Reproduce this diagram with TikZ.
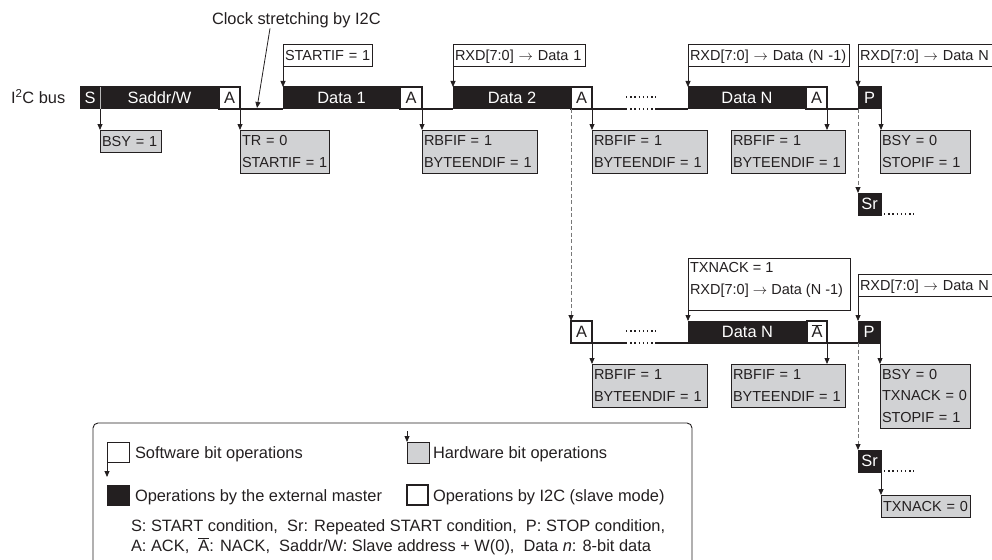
\documentclass[tikz,border=0pt]{standalone}
\usepackage{fontspec}
\setmainfont{Liberation Sans}
\usetikzlibrary{arrows.meta}
\definecolor{ink}{RGB}{35,31,32}
\definecolor{hwgray}{RGB}{209,210,212}
\definecolor{dashgray}{RGB}{120,120,120}
\newcommand{\mybigfont}{\fontsize{16.4}{19.5}\selectfont}
\newcommand{\mysmallfont}{\fontsize{14.5}{21.5}\selectfont}
\newcommand{\nack}{\ensuremath{\overline{\hbox{A}}}}
\newcommand{\nb}[1]{\mbox{#1}}
\begin{document}
\begin{tikzpicture}[x=1pt,y=-1pt,
  every node/.style={inner sep=0pt, outer sep=0pt, text=ink},
  nwpos/.style={anchor=north west},
  barbox/.style={nwpos, minimum height=22pt, font=\mybigfont, text height=11.7pt, text depth=0pt},
  blk/.style={barbox, draw=ink, fill=ink, line width=1pt, text=white},
  ack/.style={barbox, draw=ink, fill=white, line width=1.8pt},
  swlbl/.style={nwpos, draw=ink, fill=white, line width=0.9pt, font=\mysmallfont, inner xsep=2pt, align=left},
  hwlbl/.style={swlbl, fill=hwgray},
  one/.style={minimum height=22pt, text height=10.5pt, text depth=0pt},
  arr/.style={draw=ink, line width=0.8pt, -{Triangle[length=6pt,width=5pt]}},
  dasharr/.style={draw=dashgray, line width=1pt, dash pattern=on 4pt off 2.5pt, -{Triangle[length=6pt,width=5pt,color=ink]}},
  bus/.style={draw=ink, line width=1.5pt},
  dots/.style={draw=ink, line width=1.4pt, dash pattern=on 1.4pt off 2.8pt},
]
\useasboundingbox (0,0) rectangle (992,559);

% ---------- texts on the left / top
\node[anchor=base west, font=\mybigfont] (I2C) at (11,104) {I\textsuperscript{2}C bus};
\node[anchor=base west, font=\mybigfont] (CS) at (212,25) {Clock stretching by I2C};

% ---------- upper bus
\coordinate (g1a) at (626,109);
\coordinate (g1b) at (656,109);
\coordinate (u1a) at (626,97);
\coordinate (u1b) at (656,97);
\node[blk, minimum width=20pt] (S) at (80,87) {S};
\node[blk, minimum width=119pt] (SA) at (100,87) {Saddr/W};
\draw[gray!55, line width=0.6pt] (S.north east) -- (S.south east);
\node[ack, minimum width=21pt] (A1) at (219,87) {A};
\node[blk, minimum width=117pt] (D1) at (283,87) {Data 1};
\node[ack, minimum width=22pt] (A2) at (400,87) {A};
\node[blk, minimum width=118pt] (D2) at (453,87) {Data 2};
\node[ack, minimum width=21pt] (A3) at (571,87) {A};
\node[blk, minimum width=118pt] (DN) at (688,87) {Data N};
\node[ack, minimum width=21pt] (A4) at (806,87) {A};
\node[blk, minimum width=23pt] (P1) at (858,87) {P};
\node[blk, minimum width=23pt] (Sr1) at (858,193) {Sr};

\draw[bus] (A1.south east) -- (D1.south west);
\draw[bus] (A2.south east) -- (D2.south west);
\draw[bus] (A3.south east) -- (g1a);
\draw[dots] (g1a) -- (g1b);
\draw[bus] (g1b) -- (DN.south west);
\draw[bus] (A4.south east) -- (P1.south west);
\draw[dots] (u1a) -- (u1b);
\coordinate (s1a) at (884,214);
\coordinate (s1b) at (914,214);
\draw[dots] (s1a) -- (s1b);

% top labels
\node[swlbl, one, text width=85pt] (L1) at (283,44) {\nb{STARTIF = 1}};
\node[swlbl, one, text width=128pt] (L2) at (453,44) {\nb{RXD[7:0] $\rightarrow$ Data 1}};
\node[swlbl, one, text width=157pt] (L3) at (688,44) {\nb{RXD[7:0] $\rightarrow$ Data (N -1)}};
\node[swlbl, one, text width=136pt] (L4) at (858,44) {\nb{RXD[7:0] $\rightarrow$ Data N}};

% bottom labels (hardware)
\node[hwlbl, one, text width=57pt] (G1) at (100,130) {\nb{BSY = 1}};
\node[hwlbl, minimum height=43pt, text width=85pt] (G2) at (240,130) {\nb{TR = 0}\\\nb{STARTIF = 1}};
\node[hwlbl, minimum height=43pt, text width=111pt] (G3) at (422,130) {\nb{RBFIF = 1}\\\nb{BYTEENDIF = 1}};
\node[hwlbl, minimum height=43pt, text width=111pt] (G4) at (592,130) {\nb{RBFIF = 1}\\\nb{BYTEENDIF = 1}};
\node[hwlbl, minimum height=43pt, text width=110pt] (G5) at (731,130) {\nb{RBFIF = 1}\\\nb{BYTEENDIF = 1}};
\node[hwlbl, minimum height=43pt, text width=86pt] (G6) at (880,130) {\nb{BSY = 0}\\\nb{STOPIF = 1}};

% arrows upper
\coordinate (csEnd) at (257,108);
\draw[arr] ([xshift=58pt]CS.south west) -- (csEnd);
\draw[arr] (L1.south west) -- (D1.north west);
\draw[arr] (L2.south west) -- (D2.north west);
\draw[arr] (L3.south west) -- (DN.north west);
\draw[arr] (L4.south west) -- (P1.north west);
\draw[arr] (S.south east) -- (G1.north west);
\draw[arr] (A1.south east) -- (G2.north west);
\draw[arr] (A2.south east) -- (G3.north west);
\draw[arr] (A3.south east) -- (G4.north west);
\draw[arr] (A4.south east) -- (A4.south east |- G5.north);
\draw[arr] (P1.south east) -- (P1.south east |- G6.north);

% ---------- lower bus
\coordinate (g2a) at (626,343);
\coordinate (g2b) at (656,343);
\coordinate (u2a) at (626,331);
\coordinate (u2b) at (656,331);
\node[ack, minimum width=21pt] (A5) at (571,321) {A};
\node[blk, minimum width=119pt] (D5) at (688,321) {Data N};
\node[ack, minimum width=20pt] (NA) at (807,321) {\nack};
\node[blk, minimum width=22pt] (P2) at (858,321) {P};
\node[blk, minimum width=23pt] (Sr2) at (858,450) {Sr};
\draw[bus] (A5.south east) -- (g2a);
\draw[dots] (g2a) -- (g2b);
\draw[bus] (g2b) -- (D5.south west);
\draw[bus] (NA.south east) -- (P2.south west);
\draw[dots] (u2a) -- (u2b);
\coordinate (s2a) at (884,471);
\coordinate (s2b) at (914,471);
\draw[dots] (s2a) -- (s2b);

\node[swlbl, minimum width=162pt, minimum height=52pt] (L5) at (688,258) {};
\node[nwpos, font=\mysmallfont, align=left] (L5t) at ([xshift=2pt,yshift=-4.5pt]L5.north west) {TXNACK = 1\\RXD[7:0] $\rightarrow$ Data (N -1)};
\node[swlbl, one, text width=136pt] (L6) at (858,274) {\nb{RXD[7:0] $\rightarrow$ Data N}};

\node[hwlbl, minimum height=43pt, text width=111pt] (G7) at (592,364) {\nb{RBFIF = 1}\\\nb{BYTEENDIF = 1}};
\node[hwlbl, minimum height=43pt, text width=110pt] (G8) at (731,364) {\nb{RBFIF = 1}\\\nb{BYTEENDIF = 1}};
\node[hwlbl, minimum height=64pt, text width=86pt] (G9) at (880,364) {\nb{BSY = 0}\\\nb{TXNACK = 0}\\\nb{STOPIF = 1}};
\node[hwlbl, one, text width=85pt] (G10) at (881,495) {\nb{TXNACK = 0}};

\draw[arr] (L5.south west) -- (D5.north west);
\draw[arr] (L6.south west) -- (P2.north west);
\draw[arr] (A5.south east) -- (G7.north west);
\draw[arr] (NA.south east) -- (NA.south east |- G8.north);
\draw[arr] (P2.south east) -- (P2.south east |- G9.north);
\draw[arr] (Sr2.south east) -- (G10.north west);

% dashed connectors
\draw[dasharr] (A3.south west) -- (A5.north west);
\draw[dasharr] (P1.south west) -- (Sr1.north west);
\draw[dasharr] (P2.south west) -- (Sr2.north west);

% ---------- legend
\draw[ink, line width=0.9pt, rounded corners=5pt] (93,590) -- (93,423) -- (692,423) -- (692,590);
\node[nwpos, draw=ink, fill=white, line width=0.9pt, minimum width=22pt, minimum height=20pt] (lsw) at (107,442) {};
\coordinate (lswEnd) at (107,477);
\draw[arr] (lsw.south west) -- (lswEnd);
\node[nwpos, draw=ink, fill=hwgray, line width=0.9pt, minimum width=22pt, minimum height=21pt] (lhw) at (407,442) {};
\coordinate (lhwStart) at (407,431);
\draw[arr] (lhwStart) -- (lhw.north west);
\node[nwpos, draw=ink, fill=ink, line width=0.9pt, minimum width=22pt, minimum height=20pt] (lext) at (107,485) {};
\node[nwpos, draw=ink, fill=white, line width=1.8pt, minimum width=21pt, minimum height=20pt] (lslv) at (407,485) {};

\node[anchor=base west, font=\mybigfont] (tsw) at (135,458) {Software bit operations};
\node[anchor=base west, font=\mybigfont] (thw) at (433,458) {Hardware bit operations};
\node[anchor=base west, font=\mybigfont] (text) at (135,501) {Operations by the external master};
\node[anchor=base west, font=\mybigfont] (tslv) at (433,501) {Operations by I2C (slave mode)};
\node[anchor=base west, font=\mybigfont] (tl1) at (131,531) {S: START condition, \ Sr: Repeated START condition, \ P: STOP condition,};
\node[anchor=base west, font=\mybigfont] (tl2) at (131,551) {A: ACK, \ \nack: NACK, \ Saddr/W: Slave address + W(0), \ Data \textit{n}: 8-bit data};
\end{tikzpicture}
\end{document}
